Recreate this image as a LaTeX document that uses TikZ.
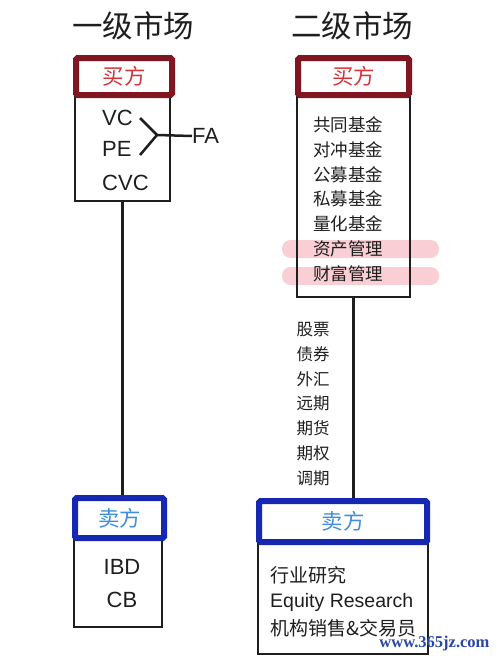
\documentclass[tikz,border=0pt]{standalone}
\usepackage{fontspec}
\setmainfont{Liberation Sans}
\newfontfamily\cjk{Noto Sans CJK SC}
\newfontfamily\wmfont{Liberation Serif}
\usetikzlibrary{positioning}

\definecolor{buyred}{RGB}{130,22,32}
\definecolor{buytext}{RGB}{210,52,58}
\definecolor{sellblue}{RGB}{22,40,178}
\definecolor{selltext}{RGB}{62,142,222}
\definecolor{hilite}{RGB}{249,206,212}
\definecolor{wmblue}{RGB}{40,72,165}
\definecolor{ink}{RGB}{30,30,30}

\tikzset{
  headbox/.style={line width=6pt, rounded corners=1.5pt, inner sep=0pt,
    font=\cjk\fontsize{21.5}{21.5}\selectfont},
  buyhead/.style={headbox, draw=buyred, text=buytext},
  sellhead/.style={headbox, draw=sellblue, text=selltext},
  bodybox/.style={draw=ink, line width=2.5pt, inner sep=0pt},
  link/.style={draw=ink, line width=2.5pt},
  title/.style={text=ink, font=\cjk\fontsize{30.5}{30.5}\selectfont},
  latin/.style={text=ink, inner sep=0pt, font=\fontsize{22}{22}\selectfont},
  fundtext/.style={text=ink, font=\cjk\fontsize{17.5}{17.5}\selectfont},
  tradetext/.style={text=ink, font=\cjk\fontsize{16.5}{16.5}\selectfont},
  selltext/.style={text=ink, anchor=west, inner sep=0pt, font=\cjk\fontsize{19}{19}\selectfont},
  bar/.style={fill=hilite, rounded corners=8.5pt}
}

\begin{document}
\begin{tikzpicture}[x=1pt, y=-1pt]
  \useasboundingbox (0,0) rectangle (500,659);

  % titles
  \node[title] (ttl1) at (133,26) {一级市场};
  \node[title] (ttl2) at (352,26) {二级市场};

  % primary market
  \begin{scope}
    \node[bodybox, minimum width=95pt, minimum height=105pt] (lbody) at (122.5,148.5) {};
    \node[buyhead, minimum width=96pt, minimum height=37pt] (lbuy) at (124,76.5) {买方};
    \node[latin, anchor=west] (vc) at (102,118) {VC};
    \node[latin, anchor=west] (pe) at (102,149) {PE};
    \node[latin, anchor=west] (cvc) at (102,183) {CVC};

    \coordinate (vcend) at (140,118);
    \coordinate (peend) at (140,155);
    \coordinate (fork) at (157,135);
    \node[latin, anchor=west] (fa) at (192,136) {FA};
    \draw[link] (vcend) -- (fork) -- (peend);
    \draw[link] (fork) -- (fa.west);

    \node[bodybox, minimum width=88pt, minimum height=87pt] (lsbody) at (118,583.5) {};
    \node[sellhead, minimum width=89pt, minimum height=40pt] (lsell) at (119.5,518) {卖方};
    \node[latin] (ibd) at (122,567) {IBD};
    \node[latin] (cb) at (122,600) {CB};

    \draw[link] (lbody.south) -- (lbody.south |- lsell.north);
  \end{scope}

  % secondary market
  \begin{scope}
    \foreach \y in {249,276}{
      \fill[bar] (282,\y-9) rectangle (439,\y+9);
    }
    \node[bodybox, minimum width=113pt, minimum height=201pt] (rbody) at (353.5,196.5) {};
    \node[buyhead, minimum width=111pt, minimum height=37pt] (rbuy) at (353.5,76.5) {买方};

    \foreach \txt [count=\i] in {共同基金,对冲基金,公募基金,私募基金,量化基金,资产管理,财富管理}{
      \node[fundtext] (fund\i) at (348,100+24.8*\i) {\txt};
    }

    \foreach \txt [count=\i] in {股票,债券,外汇,远期,期货,期权,调期}{
      \node[tradetext] (trade\i) at (313,305+24.7*\i) {\txt};
    }

    \node[bodybox, minimum width=170pt, minimum height=112pt] (rsbody) at (343,598) {};
    \node[sellhead, minimum width=168pt, minimum height=41pt] (rsell) at (343,521.5) {卖方};
    \draw[link] (rbody.south) -- (rbody.south |- rsell.north);

    \node[selltext] (res1) at (270,575) {行业研究};
    \node[selltext, font=\fontsize{19.5}{19.5}\selectfont] (res2) at (270,602) {Equity Research};
    \node[selltext] (res3) at (270,628) {机构销售\&交易员};
  \end{scope}

  \node[text=wmblue, font=\wmfont\bfseries\fontsize{16.5}{16.5}\selectfont, anchor=east] (wm) at (493,644) {www.365jz.com};
\end{tikzpicture}
\end{document}
